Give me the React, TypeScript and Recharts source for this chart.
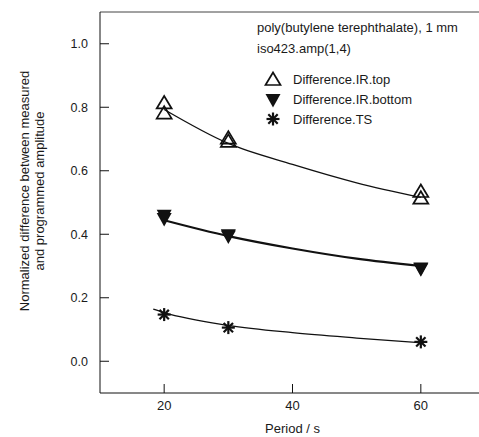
import React from "react";
import {
  ComposedChart,
  Line,
  Scatter,
  XAxis,
  YAxis,
  ReferenceLine,
  Customized,
} from "recharts";

// measured points, period in s
const periods = [20, 30, 60];
const irTopA = [0.812, 0.701, 0.533];
const irTopB = [0.78, 0.691, 0.512];
const irBottomA = [0.458, 0.397, 0.292];
const irBottomB = [0.448, 0.393, 0.29];
const tsValues = [0.147, 0.106, 0.061];

// fitted curves
const fitPeriods = [20, 30, 40, 50, 60];
const irTopFit = [0.793, 0.686, 0.62, 0.562, 0.516];
const irBottomFit = [0.444, 0.394, 0.355, 0.323, 0.3];
const tsFitPeriods = [18.3, 20, 30, 40, 50, 60];
const tsFit = [0.164, 0.153, 0.113, 0.09, 0.073, 0.058];

const xTicks = [20, 40, 60];
const yTicks = [0, 0.2, 0.4, 0.6, 0.8, 1.0];

const toPoints = (xs: number[], ys: number[]) =>
  xs.map((x, i) => ({ x, y: ys[i] }));

const INK = "#111";

const OpenTriangle = ({ cx, cy }: any) => (
  <polygon
    points={`${cx},${cy - 7.5} ${cx - 7.5},${cy + 5} ${cx + 7.5},${cy + 5}`}
    fill="none"
    stroke={INK}
    strokeWidth={1.7}
  />
);

const DownTriangle = ({ cx, cy }: any) => (
  <polygon
    points={`${cx - 7.5},${cy - 6} ${cx + 7.5},${cy - 6} ${cx},${cy + 7.5}`}
    fill={INK}
  />
);

const Asterisk = ({ cx, cy }: any) => {
  const r = 6.5;
  const d = r * 0.72;
  return (
    <g stroke={INK} strokeWidth={2.2}>
      <line x1={cx - r} y1={cy} x2={cx + r} y2={cy} />
      <line x1={cx} y1={cy - r} x2={cx} y2={cy + r} />
      <line x1={cx - d} y1={cy - d} x2={cx + d} y2={cy + d} />
      <line x1={cx - d} y1={cy + d} x2={cx + d} y2={cy - d} />
    </g>
  );
};

const LegendBlock = () => (
  <g fontSize={13} fill="#1a1a1a">
    <text x={257} y={32}>poly(butylene terephthalate), 1 mm</text>
    <text x={257} y={53}>iso423.amp(1,4)</text>
    <OpenTriangle cx={273} cy={80} />
    <text x={293} y={83.5}>Difference.IR.top</text>
    <DownTriangle cx={273} cy={100} />
    <text x={293} y={104}>Difference.IR.bottom</text>
    <Asterisk cx={273} cy={119} />
    <text x={293} y={123.5}>Difference.TS</text>
  </g>
);

const YTitle = () => (
  <g fontSize={13} fill="#1a1a1a" textAnchor="middle">
    <text x={29} y={191} transform="rotate(-90 29 191)">
      Normalized difference between measured
    </text>
    <text x={44} y={191} transform="rotate(-90 44 191)">
      and programmed amplitude
    </text>
  </g>
);

const XTitle = () => (
  <text x={292.5} y={433} fontSize={13} fill="#1a1a1a" textAnchor="middle">
    Period / s
  </text>
);

export default function App() {
  return (
    <div
      style={{
        position: "absolute",
        left: 0,
        top: 0,
        width: 479,
        height: 437,
        overflow: "hidden",
        background: "#fff",
        fontFamily: "'Liberation Sans', Arial, sans-serif",
      }}
    >
      <ComposedChart
        width={500}
        height={437}
        margin={{ top: 12, right: 15, left: 0, bottom: 0 }}
      >
        <XAxis
          type="number"
          dataKey="x"
          domain={[10, 70]}
          ticks={xTicks}
          allowDataOverflow
          height={44}
          stroke={INK}
          tickSize={-9}
          tickMargin={17}
          tick={{ fill: "#1a1a1a", fontSize: 13 }}
        />
        <YAxis
          type="number"
          dataKey="y"
          domain={[-0.1, 1.1]}
          ticks={yTicks}
          allowDataOverflow
          width={100}
          stroke={INK}
          tickSize={-9}
          tickMargin={21}
          tickFormatter={(v: number) => v.toFixed(1)}
          tick={{ fill: "#1a1a1a", fontSize: 12.5 }}
        />
        <ReferenceLine y={1.1} stroke="#444" strokeWidth={1} />

        <Line
          data={toPoints(fitPeriods, irTopFit)}
          dataKey="y"
          type="monotone"
          stroke={INK}
          strokeWidth={1.3}
          dot={false}
          activeDot={false}
          isAnimationActive={false}
        />
        <Line
          data={toPoints(fitPeriods, irBottomFit)}
          dataKey="y"
          type="monotone"
          stroke={INK}
          strokeWidth={2.2}
          dot={false}
          activeDot={false}
          isAnimationActive={false}
        />
        <Line
          data={toPoints(tsFitPeriods, tsFit)}
          dataKey="y"
          type="monotone"
          stroke={INK}
          strokeWidth={1.3}
          dot={false}
          activeDot={false}
          isAnimationActive={false}
        />

        <Scatter
          data={toPoints(periods, irTopA)}
          shape={(p: any) => <OpenTriangle cx={p.cx} cy={p.cy} />}
          isAnimationActive={false}
        />
        <Scatter
          data={toPoints(periods, irTopB)}
          shape={(p: any) => <OpenTriangle cx={p.cx} cy={p.cy} />}
          isAnimationActive={false}
        />
        <Scatter
          data={toPoints(periods, irBottomA)}
          shape={(p: any) => <DownTriangle cx={p.cx} cy={p.cy} />}
          isAnimationActive={false}
        />
        <Scatter
          data={toPoints(periods, irBottomB)}
          shape={(p: any) => <DownTriangle cx={p.cx} cy={p.cy} />}
          isAnimationActive={false}
        />
        <Scatter
          data={toPoints(periods, tsValues)}
          shape={(p: any) => <Asterisk cx={p.cx} cy={p.cy} />}
          isAnimationActive={false}
        />

        <Customized component={LegendBlock} />
        <Customized component={YTitle} />
        <Customized component={XTitle} />
      </ComposedChart>
    </div>
  );
}
